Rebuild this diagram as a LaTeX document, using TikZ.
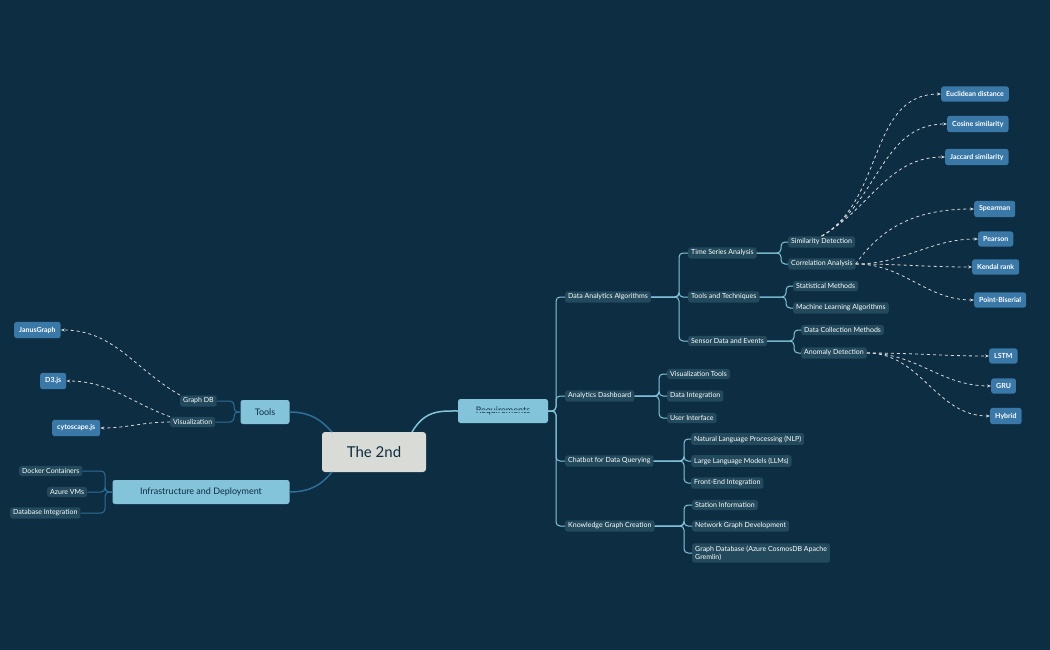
\documentclass[tikz,border=0pt]{standalone}
\usepackage{fontspec}
\setmainfont{Lato}
\usetikzlibrary{arrows.meta}
\definecolor{bg}{HTML}{0D2D42}
\definecolor{subc}{HTML}{22495C}
\definecolor{leafc}{HTML}{3A78A8}
\definecolor{mainc}{HTML}{84C4DA}
\definecolor{lightc}{HTML}{84C4DA}
\definecolor{darkc}{HTML}{2E6E9A}
\definecolor{textd}{HTML}{0D2D42}
\definecolor{cenc}{HTML}{D9DBD6}
\begin{document}
\begin{tikzpicture}[x=1pt,y=-1pt,
 every node/.style={font=\fontsize{7}{8}\selectfont, text=white, inner xsep=3pt, inner ysep=2.5pt, rounded corners=2.5pt, anchor=west},
 sub/.style={fill=subc},
 leaf/.style={fill=leafc, inner ysep=5pt, inner xsep=5pt, font=\fontsize{7}{8}\selectfont\bfseries},
 main/.style={fill=mainc, text=textd, font=\fontsize{9}{10}\selectfont, inner xsep=5pt, inner ysep=5pt, minimum height=24pt},
 br/.style={draw=lightc, line width=1pt, rounded corners=4pt},
 brd/.style={draw=darkc, line width=1pt, rounded corners=4pt},
 da/.style={draw=gray!30, dashed, line width=0.8pt, -{Stealth[length=4pt]}}]
\fill[bg] (0,0) rectangle (1050,650);
\useasboundingbox (0,0) rectangle (1050,650);
% central
\node[fill=cenc, text=textd, font=\fontsize{15}{16}\selectfont, minimum width=104pt, minimum height=40pt, anchor=center, rounded corners=3pt] (c) at (374,452) {The 2nd};
\node[main, anchor=center, minimum width=90pt] (req) at (503,411) {Requirements};
\node[main, anchor=center, minimum width=49pt] (tools) at (265,412) {Tools};
\node[main, anchor=center, minimum width=177pt] (inf) at (201,492) {Infrastructure and Deployment};
\draw[lightc, line width=1.5pt] (412,432) .. controls (425,410) and (440,411) .. (req.west);
\draw[darkc, line width=1.5pt] (tools.east) .. controls (315,412) and (325,425) .. (332,432);
\draw[darkc, line width=1.5pt] (inf.east) .. controls (315,492) and (325,480) .. (332,472);
% level 2
\node[sub] (daa) at (565,297) {Data Analytics Algorithms};
\node[sub] (ad) at (565,396) {Analytics Dashboard};
\node[sub] (cb) at (565,461) {Chatbot for Data Querying};
\node[sub] (kg) at (565,526) {Knowledge Graph Creation};
\foreach \t in {daa,ad,cb,kg} \draw[br] (req.west) -- (556,411) |- (\t.west);
% level 3
\node[sub] (tsa) at (688,253) {Time Series Analysis};
\node[sub] (tt) at (688,297) {Tools and Techniques};
\node[sub] (sd) at (688,341) {Sensor Data and Events};
\foreach \t in {tsa,tt,sd} \draw[br] (daa.east) -- (679,297) |- (\t.west);
\node[sub] (sim) at (788,242) {Similarity Detection};
\node[sub] (cor) at (788,264) {Correlation Analysis};
\foreach \t in {sim,cor} \draw[br] (tsa.east) -- (781,253) |- (\t.west);
\node[sub] (sm) at (793,286) {Statistical Methods};
\node[sub] (ml) at (793,308) {Machine Learning Algorithms};
\foreach \t in {sm,ml} \draw[br] (tt.east) -- (786,297) |- (\t.west);
\node[sub] (dc) at (801,330) {Data Collection Methods};
\node[sub] (an) at (801,353) {Anomaly Detection};
\foreach \t in {dc,an} \draw[br] (sd.east) -- (794,341) |- (\t.west);
\node[sub] (vt) at (667,374) {Visualization Tools};
\node[sub] (di) at (667,396) {Data Integration};
\node[sub] (ui) at (667,418) {User Interface};
\foreach \t in {vt,di,ui} \draw[br] (ad.east) -- (659,396) |- (\t.west);
\node[sub] (nlp) at (691,439) {Natural Language Processing (NLP)};
\node[sub] (llm) at (691,461) {Large Language Models (LLMs)};
\node[sub] (fe) at (691,483) {Front-End Integration};
\foreach \t in {nlp,llm,fe} \draw[br] (cb.east) -- (684,461) |- (\t.west);
\node[sub] (si) at (692,505) {Station Information};
\node[sub] (ng) at (692,526) {Network Graph Development};
\node[sub, align=left] (gd) at (692,553) {Graph Database (Azure CosmosDB Apache\\Gremlin)};
\foreach \t in {si,ng,gd} \draw[br] (kg.east) -- (684,526) |- (\t.west);
% right leaves
\node[leaf] (euc) at (941,94) {Euclidean distance};
\node[leaf] (cos) at (947,124) {Cosine similarity};
\node[leaf] (jac) at (945,157) {Jaccard similarity};
\node[leaf] (spe) at (974,209) {Spearman};
\node[leaf] (pea) at (978,239) {Pearson};
\node[leaf] (ken) at (972,267) {Kendal rank};
\node[leaf] (pb) at (974,300) {Point-Biserial};
\node[leaf] (lstm) at (989,356) {LSTM};
\node[leaf] (gru) at (991,386) {GRU};
\node[leaf] (hyb) at (990,416) {Hybrid};
\foreach \t in {euc,cos,jac} \draw[da] (sim.north) to[out=30,in=180] (\t.west);
\foreach \t in {pea,ken,pb} \draw[da] (cor.east) to[out=0,in=180] (\t.west);
\draw[da] (cor.east) to[out=55,in=180] (spe.west);
\foreach \t in {lstm,gru,hyb} \draw[da] (an.east) to[out=0,in=180] (\t.west);
% left
\node[sub] (gdb) at (180,401) {Graph DB};
\node[sub] (vis) at (170,422) {Visualization};
\foreach \t in {gdb,vis} \draw[brd] (tools.west) -- (234,412) |- (\t.east);
\node[leaf] (jan) at (14,330) {JanusGraph};
\node[leaf] (d3) at (40,381) {D3.js};
\node[leaf] (cy) at (52,428) {cytoscape.js};
\draw[da] (gdb.north west) to[out=150,in=0] (jan.east);
\draw[da] (vis.north west) to[out=160,in=0] (d3.east);
\draw[da] (vis.west) to[out=180,in=0] (cy.east);
\node[sub] (dock) at (19,471) {Docker Containers};
\node[sub] (az) at (47,492) {Azure VMs};
\node[sub] (dbi) at (10,513) {Database Integration};
\foreach \t in {dock,az,dbi} \draw[brd] (inf.west) -- (105,492) |- (\t.east);
\end{tikzpicture}
\end{document}
